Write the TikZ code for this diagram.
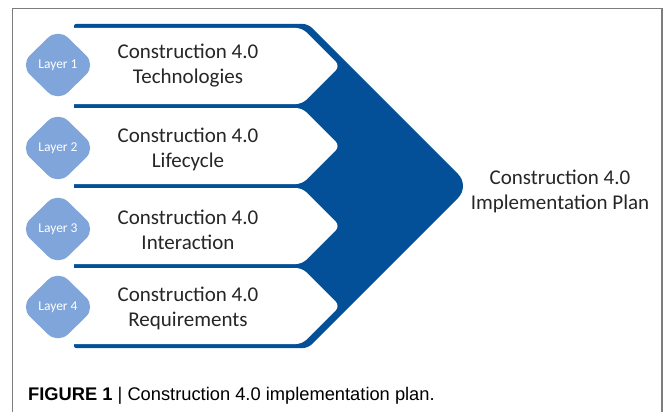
\documentclass[tikz,border=0pt]{standalone}
\usepackage{fontspec}
\setmainfont{Carlito}
\newfontfamily\capfont{Liberation Sans}

\definecolor{planblue}{RGB}{4,80,152}
\definecolor{layerblue}{RGB}{127,165,218}
\definecolor{framegray}{RGB}{125,125,125}
\definecolor{textgray}{RGB}{38,38,38}

\tikzset{
  bandtext/.style={text=textgray, align=center, font=\fontsize{21}{25}\selectfont},
  layertext/.style={text=white, font=\fontsize{13.5}{15}\selectfont}
}

\begin{document}
\begin{tikzpicture}[x=1pt,y=-1pt]
    \useasboundingbox (0,0) rectangle (663,412);
    % Draw the open frame round the figure
    \draw[framegray, line width=1.5pt] (12.5,412) -- (12.5,8.5) -- (662,8.5) -- (662,412);

    % Draw the big chevron
    \fill[planblue] (74,24) [rounded corners=5pt] -- (308,24) [rounded corners=17pt] -- (470,186)
        [rounded corners=5pt] -- (308,348) [rounded corners=2pt] -- (74,348) -- cycle;
    % Cut the four white bands out of it
    \foreach \t in {28,108,188,268}
        \fill[white, rounded corners=6pt] (60,\t) -- (302,\t) -- (340,\t+38) -- (302,\t+76) -- (60,\t+76) -- cycle;

    % Draw the layer diamonds and the band labels
    \foreach \y/\n/\txt in {65/1/Technologies, 148/2/Lifecycle, 229/3/Interaction, 307/4/Requirements} {
        \fill[layerblue, rounded corners=14pt] (58,\y-37) -- (96,\y) -- (58,\y+37) -- (20,\y) -- cycle;
        \node[layertext] (layer\n) at (58,\y) {Layer \n};
        \node[bandtext] (band\n) at (188,\y+1) {Construction 4.0\\\txt};
    }

    % Label the plan at the tip
    \node[bandtext] (plan) at (560,191) {Construction 4.0\\Implementation Plan};

    % Caption
    \node[anchor=base west, inner sep=0pt, font=\capfont\fontsize{18.3}{20}\selectfont] (caption) at (28,400)
        {\textbf{FIGURE 1} | Construction 4.0 implementation plan.};
\end{tikzpicture}
\end{document}
